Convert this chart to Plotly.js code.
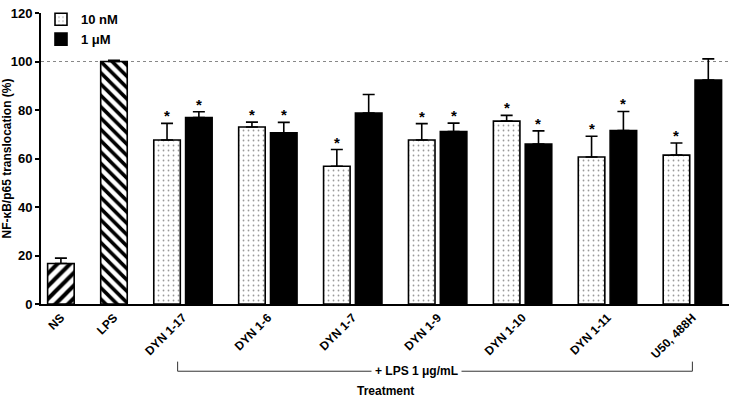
<!DOCTYPE html>
<html>
<head>
<meta charset="utf-8">
<script src="https://cdn.plot.ly/plotly-3.0.1.min.js"></script>
<style>
  html, body { margin: 0; padding: 0; background: #fff; }
  #chart { width: 733px; height: 402px; }
</style>
</head>
<body>
<div id="chart"></div>
<script>
// --- Data ---
const controlLabels = ['NS', 'LPS'];
const controlValues = [16.7, 100];
const controlErr = [2.2, 0.5];

const treatments = ['DYN 1-17', 'DYN 1-6', 'DYN 1-7', 'DYN 1-9', 'DYN 1-10', 'DYN 1-11', 'U50, 488H'];
const nM10 = [67.6, 73.0, 56.8, 67.6, 75.4, 60.6, 61.4];
const nM10Err = [6.9, 2.0, 6.9, 6.8, 2.4, 8.6, 5.0];
const uM1 = [76.9, 70.6, 78.7, 71.1, 66.0, 71.5, 92.4];
const uM1Err = [2.4, 4.3, 7.7, 3.5, 5.4, 7.9, 8.7];
const sig10 = [true, true, true, true, true, true, true];
const sig1 = [true, true, false, true, true, true, false];

// --- Layout of slots ---
const groupStart = 2, groupPitch = 1.6, pairOffset = 0.6, barW = 0.5;
const ctrlX = controlLabels.map((_, i) => i);
const x10 = treatments.map((_, i) => groupStart + i * groupPitch);
const x1 = x10.map(v => v + pairOffset);
const groupCenters = x10.map(v => v + pairOffset / 2);

const font = 'Liberation Sans, Arial, sans-serif';
const outline = { color: '#000', width: 1.6 };
const errStyle = (arr) => ({
    type: 'data', symmetric: false, array: arr, arrayminus: arr.map(() => 0),
    color: '#000', thickness: 1.6, width: 6
});

const traces = [
    {
        type: 'bar', x: [ctrlX[0]], y: [controlValues[0]], width: barW,
        marker: { color: '#fff', line: outline, pattern: { shape: '/', fgcolor: '#000', bgcolor: '#fff', size: 9, solidity: 0.45 } },
        error_y: errStyle([controlErr[0]]), showlegend: false, hoverinfo: 'y'
    },
    {
        type: 'bar', x: [ctrlX[1]], y: [controlValues[1]], width: barW,
        marker: { color: '#fff', line: outline, pattern: { shape: '\\', fgcolor: '#000', bgcolor: '#fff', size: 8, solidity: 0.45 } },
        error_y: errStyle([controlErr[1]]), showlegend: false, hoverinfo: 'y'
    },
    {
        type: 'bar', name: '10 nM', x: x10, y: nM10, width: barW,
        marker: { color: '#fff', line: outline, pattern: { shape: '.', fgcolor: '#999', bgcolor: '#fff', size: 5, solidity: 0.1 } },
        error_y: errStyle(nM10Err)
    },
    {
        type: 'bar', name: '1 \u03bcM', x: x1, y: uM1, width: barW,
        marker: { color: '#000', line: outline },
        error_y: errStyle(uM1Err)
    }
];

// significance stars
const starFont = { family: font, size: 15, color: '#000' };
const annotations = [];
x10.forEach((x, i) => {
    if (sig10[i]) annotations.push({ x: x, y: nM10[i] + nM10Err[i], text: '<b>*</b>', showarrow: false, yanchor: 'bottom', yshift: -3, font: starFont });
});
x1.forEach((x, i) => {
    if (sig1[i]) annotations.push({ x: x, y: uM1[i] + uM1Err[i], text: '<b>*</b>', showarrow: false, yanchor: 'bottom', yshift: -3, font: starFont });
});

// bracket under the LPS-treated groups
const bracketL = x10[0] + 0.2, bracketR = groupCenters[groupCenters.length - 1];
annotations.push({
    x: 6.7, y: -0.231, xref: 'x', yref: 'paper', yanchor: 'middle',
    text: '<b>+ LPS 1 \u03bcg/mL</b>', showarrow: false, bgcolor: '#fff', borderpad: 3,
    font: { family: font, size: 12, color: '#000' }
});
annotations.push({
    x: 0.5, y: -0.299, xref: 'paper', yref: 'paper', yanchor: 'middle', text: '<b>Treatment</b>', showarrow: false,
    font: { family: font, size: 12, color: '#000' }
});

const shapes = [
    { type: 'line', xref: 'paper', yref: 'y', x0: 0, x1: 1, y0: 100, y1: 100, line: { color: '#888', width: 1, dash: 'dot' }, layer: 'below' },
    { type: 'line', xref: 'x', yref: 'paper', x0: bracketL, x1: bracketL, y0: -0.198, y1: -0.231, line: { color: '#333', width: 1 } },
    { type: 'line', xref: 'x', yref: 'paper', x0: bracketL, x1: bracketR, y0: -0.231, y1: -0.231, line: { color: '#333', width: 1 } },
    { type: 'line', xref: 'x', yref: 'paper', x0: bracketR, x1: bracketR, y0: -0.198, y1: -0.231, line: { color: '#333', width: 1 } }
];

const layout = {
    width: 733, height: 402,
    margin: { l: 41, r: 4, t: 7, b: 98 },
    paper_bgcolor: '#fff', plot_bgcolor: '#fff',
    font: { family: font, color: '#000' },
    barmode: 'overlay',
    showlegend: true,
    legend: {
        x: 0.0, y: 1.03, xanchor: 'left', yanchor: 'top',
        bgcolor: 'rgba(0,0,0,0)', tracegroupgap: 0,
        font: { family: font, size: 13, color: '#000', weight: 'bold' }
    },
    xaxis: {
        range: [-0.375, 12.59],
        tickvals: ctrlX.concat(groupCenters),
        ticktext: controlLabels.concat(treatments).map(t => '<b>' + t + '</b>'),
        tickangle: -45,
        tickfont: { family: font, size: 12, color: '#000' },
        ticks: '', showgrid: false, zeroline: false,
        showline: true, linecolor: '#000', linewidth: 2
    },
    yaxis: {
        range: [0, 120], dtick: 20,
        ticks: 'outside', ticklen: 4, tickwidth: 2, tickcolor: '#000',
        tickfont: { family: font, size: 13, color: '#000', weight: 'bold' },
        showgrid: false, zeroline: false,
        showline: true, linecolor: '#000', linewidth: 2,
        title: { text: '<b>NF-\u03baB/p65 translocation (%)</b>', font: { family: font, size: 12, color: '#000' }, standoff: 3 }
    },
    shapes: shapes,
    annotations: annotations
};

Plotly.newPlot('chart', traces, layout, { displayModeBar: false, staticPlot: true });
</script>
</body>
</html>
